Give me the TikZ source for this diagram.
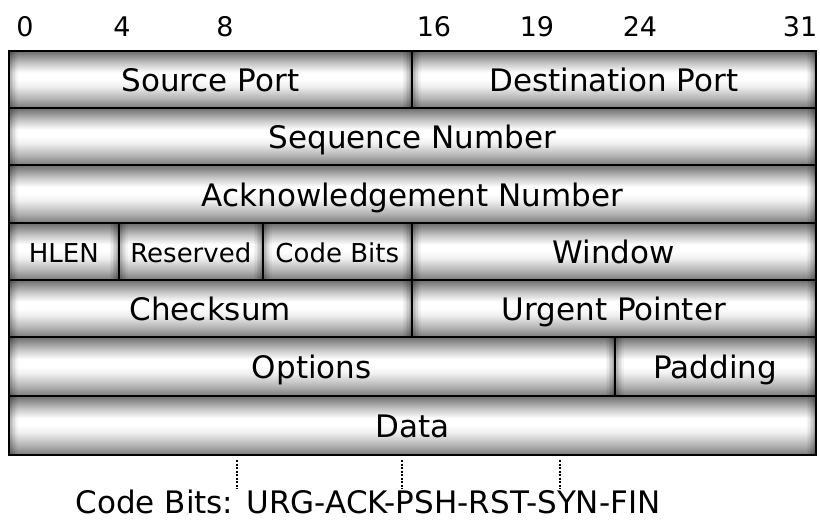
\documentclass[tikz,border=0pt]{standalone}
\usepackage{fontspec}
\setmainfont{DejaVu Sans}
\pgfdeclareverticalshading{cylshade}{100bp}{%
  color(0bp)=(black!52);
  color(25bp)=(black!52);
  color(33bp)=(black!30);
  color(44bp)=(black!6);
  color(50bp)=(white);
  color(56bp)=(white);
  color(64bp)=(black!22);
  color(75bp)=(black!58);
  color(100bp)=(black!58)}
\tikzset{
  cell/.style={draw=black, line width=1.6pt, shading=cylshade, anchor=north west,
    inner sep=0pt, font=\fontsize{31}{31}\selectfont, text=black,
    text height=25pt, text depth=0pt,
    path picture={
      \foreach \i/\o in {0/0.34,1/0.27,2/0.2,3/0.14,4/0.08,5/0.04}{
        \fill[black, fill opacity=\o]
          ([xshift=\i*1.5pt]path picture bounding box.north west) rectangle
          ([xshift=\i*1.5pt+1.5pt]path picture bounding box.south west);
        \fill[black, fill opacity=\o]
          ([xshift=-\i*1.5pt]path picture bounding box.north east) rectangle
          ([xshift=-\i*1.5pt-1.5pt]path picture bounding box.south east);
      }
    }},
  smallcell/.style={cell, font=\fontsize{26}{26}\selectfont, text height=22pt},
  bitnum/.style={font=\fontsize{27}{27}\selectfont, anchor=base},
  tick/.style={line width=1.6pt, dash pattern=on 2.2pt off 1.3pt},
  caption/.style={font=\fontsize{31}{31}\selectfont, anchor=base, inner sep=0pt}
}
\begin{document}
\begin{tikzpicture}[x=1pt,y=-1pt]
\useasboundingbox (0,0) rectangle (820,520);
% bit numbers
\node[bitnum] (b0) at (25,36) {0};
\node[bitnum] (b4) at (122,36) {4};
\node[bitnum] (b8) at (225,36) {8};
\node[bitnum] (b16) at (434,36) {16};
\node[bitnum] (b19) at (537,36) {19};
\node[bitnum] (b24) at (640,36) {24};
\node[bitnum] (b31) at (800,36) {31};
% row 1
\node[cell, minimum width=403pt, minimum height=57pt] (src) at (8,50) {Source Port};
\node[cell, minimum width=404pt, minimum height=57pt] (dst) at (411,50) {Destination Port};
% row 2
\node[cell, minimum width=807pt, minimum height=57pt] (seq) at (8,107) {Sequence Number};
% row 3
\node[cell, minimum width=807pt, minimum height=58pt] (ack) at (8,164) {Acknowledgement Number};
% row 4
\node[smallcell, minimum width=110pt, minimum height=57pt] (hlen) at (8,222) {HLEN};
\node[smallcell, minimum width=144pt, minimum height=57pt] (res) at (118,222) {Reserved};
\node[smallcell, minimum width=149pt, minimum height=57pt] (code) at (262,222) {Code Bits};
\node[cell, minimum width=404pt, minimum height=57pt] (win) at (411,222) {Window};
% row 5
\node[cell, minimum width=403pt, minimum height=57pt] (chk) at (8,279) {Checksum};
\node[cell, minimum width=404pt, minimum height=57pt] (urg) at (411,279) {Urgent Pointer};
% row 6
\node[cell, minimum width=606pt, minimum height=59pt] (opt) at (8,336) {Options};
\node[cell, minimum width=201pt, minimum height=59pt] (pad) at (614,336) {Padding};
% row 7
\node[cell, minimum width=807pt, minimum height=59pt] (data) at (8,395) {Data};
% caption
\node[caption] (cap) at (368,513) {Code Bits: URG-ACK-PSH-RST-SYN-FIN};
\coordinate (t1a) at (237,460); \coordinate (t1b) at (237,489);
\coordinate (t2a) at (402,460); \coordinate (t2b) at (402,489);
\coordinate (t3a) at (560,460); \coordinate (t3b) at (560,489);
\draw[tick] (t1a) -- (t1b);
\draw[tick] (t2a) -- (t2b);
\draw[tick] (t3a) -- (t3b);
\end{tikzpicture}
\end{document}
